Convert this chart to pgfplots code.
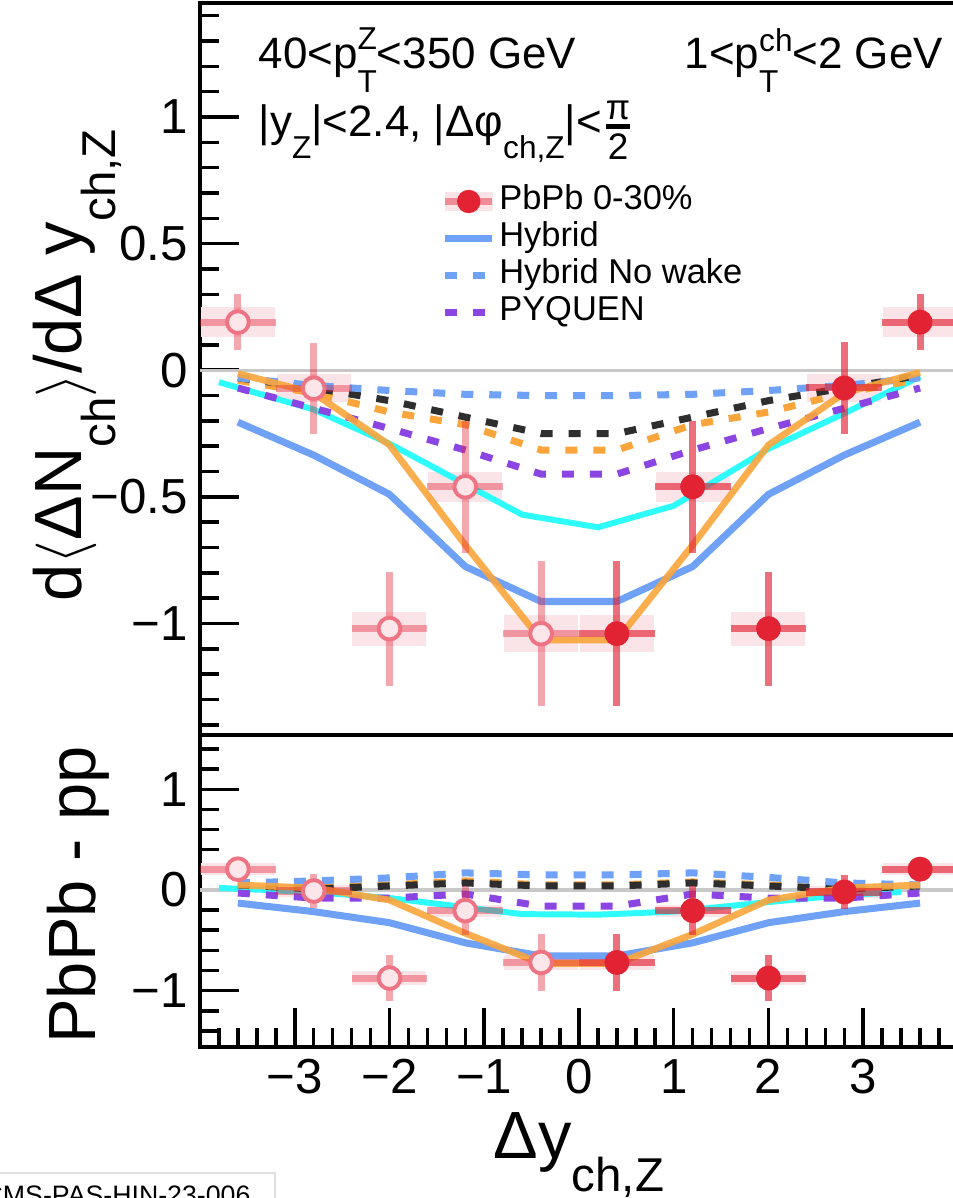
\documentclass[border=0pt]{standalone}
\usepackage{fontspec}
\setmainfont{Liberation Sans}
\usepackage{amsmath}
\usepackage{pgfplots}
\usepackage{pgfplotstable}
\pgfplotsset{compat=1.18}

\definecolor{mred}{HTML}{E22334}
\definecolor{openedge}{HTML}{EE7484}
\definecolor{openfill}{HTML}{FCE6E9}
\definecolor{boxpink}{HTML}{FBE4E8}
\definecolor{hyb}{HTML}{6FA1F6}
\definecolor{pyq}{HTML}{8B45E2}
\definecolor{orng}{HTML}{F9A53B}
\definecolor{cyn}{HTML}{2EFBFB}
\definecolor{blk}{HTML}{2E2E2E}
\definecolor{zline}{HTML}{C8C8C8}

\newcommand{\tickfont}{\fontsize{14}{16}\selectfont}
\newcommand{\labfont}{\fontsize{19}{22}\selectfont}
\newcommand{\annfont}{\fontsize{12.5}{14}\selectfont}
\newcommand{\legfont}{\fontsize{9.8}{11}\selectfont}
\newcommand{\smallsize}{\fontsize{9}{9}\selectfont}

% ROOT-like low subscripts and high superscripts
\newcommand{\asub}[1]{\raisebox{-0.5em}{\smallsize #1}}
\newcommand{\supsub}[3]{%
  \setbox0\hbox{\smallsize #2}\setbox2\hbox{\smallsize #3}%
  \ifdim\wd0>\wd2 \dimen0=\wd0 \else \dimen0=\wd2 \fi
  \rlap{\raisebox{#1}{\copy0}}\rlap{\raisebox{-0.55em}{\copy2}}\hspace*{\dimen0}}
\newcommand{\lsub}[1]{\raisebox{-0.5em}{\fontsize{13.5}{13.5}\selectfont #1}}
\newcommand{\pihalf}{\ensuremath{\genfrac{}{}{1.3pt}{1}{\mbox{\fontsize{10}{10}\selectfont π}}{\mbox{\fontsize{10.5}{10.5}\selectfont 2}}}}

% data points: x, value, stat, sys
\pgfplotstableread{
x y stat sys
-3.6  0.19  0.112 0.06
-2.8 -0.071 0.18  0.055
-2.0 -1.02  0.225 0.067
-1.2 -0.46  0.26  0.06
-0.4 -1.04  0.285 0.073
}\topneg
\pgfplotstableread{
x y stat sys
0.4 -1.04  0.285 0.073
1.2 -0.46  0.26  0.06
2.0 -1.02  0.225 0.067
2.8 -0.07  0.18  0.055
3.6  0.19  0.112 0.06
}\toppos
\pgfplotstableread{
x y stat sys
-3.6  0.207 0.112 0.06
-2.8 -0.01  0.17  0.055
-2.0 -0.875 0.225 0.067
-1.2 -0.205 0.245 0.06
-0.4 -0.72  0.28  0.073
}\botneg
\pgfplotstableread{
x y stat sys
0.4 -0.72  0.28  0.073
1.2 -0.205 0.245 0.06
2.0 -0.875 0.225 0.067
2.8 -0.02  0.17  0.055
3.6  0.207 0.112 0.06
}\botpos

% models
\pgfplotstableread{
x    hyb    nowake pyq    blk    odash  osolid
-3.6 -0.205 -0.03  -0.07  -0.03  -0.04  -0.013
-2.8 -0.335 -0.06  -0.15  -0.07  -0.09  -0.09
-2.0 -0.49  -0.08  -0.23  -0.12  -0.165 -0.295
-1.2 -0.775 -0.095 -0.315 -0.185 -0.215 -0.69
-0.4 -0.913 -0.10  -0.41  -0.25  -0.315 -1.065
 0.4 -0.913 -0.10  -0.41  -0.25  -0.315 -1.065
 1.2 -0.775 -0.095 -0.315 -0.185 -0.215 -0.69
 2.0 -0.49  -0.08  -0.23  -0.12  -0.165 -0.295
 2.8 -0.335 -0.06  -0.15  -0.07  -0.09  -0.09
 3.6 -0.205 -0.03  -0.07  -0.02  -0.035 -0.008
}\topmod
\pgfplotstableread{
x y
-3.8 -0.047
-2.8 -0.155
-2.0 -0.29
-0.6 -0.57
 0.2 -0.62
 1.0 -0.535
 2.0 -0.31
 2.8 -0.17
 3.6 -0.025
}\topcyan
\pgfplotstableread{
x    hyb    nowake pyq    blk   odash osolid
-3.6 -0.13  0.07  -0.03   0.05  0.06   0.05
-2.8 -0.215 0.09  -0.08   0.01  0.02   0.02
-2.0 -0.325 0.12  -0.08   0.04  0.05  -0.10
-1.2 -0.525 0.17  -0.04   0.07  0.09  -0.43
-0.4 -0.655 0.15  -0.16   0.04  0.05  -0.73
 0.4 -0.655 0.15  -0.16   0.04  0.05  -0.73
 1.2 -0.525 0.17  -0.04   0.07  0.08  -0.44
 2.0 -0.325 0.125 -0.08   0.04  0.05  -0.10
 2.8 -0.215 0.07  -0.08   0.01  0.01   0.02
 3.6 -0.13  0.05  -0.03   0.04  0.05   0.05
}\botmod
\pgfplotstableread{
x y
-3.8  0.02
-2.8 -0.02
-2.0 -0.08
-0.6 -0.24
 0.2 -0.245
 1.0 -0.215
 2.0 -0.12
 2.8 -0.05
 3.4 -0.02
}\botcyan

\pgfplotsset{
  panel/.style={
    scale only axis, width=7.58cm,
    xmin=-4, xmax=4,
    tick align=inside,
    major tick length=0.39cm, minor tick length=0.19cm,
    axis line style={line width=1pt},
    every tick/.append style={black, line width=1pt},
    every minor tick/.append style={black, line width=1pt},
    ytick pos=left,
    yticklabel style={font=\tickfont},
    xticklabel style={font=\tickfont},
    clip mode=individual,
  },
  sysbox/.style={draw=none, forget plot,
    error bars/.cd, y dir=both, y explicit, error mark=none,
    error bar style={line width=0.74cm, draw=boxpink}},
  filledpts/.style={forget plot, only marks, mark=*, mark size=3.3pt,
    mark options={draw=mred, fill=mred, line width=0.5pt},
    error bars/.cd, x dir=both, x fixed=0.4, y dir=both, y explicit,
    error mark=none, error bar style={line width=2pt, draw=mred, opacity=0.65}},
  openpts/.style={forget plot, only marks, mark=*, mark size=3.1pt,
    mark options={draw=openedge, fill=openfill, line width=1.1pt},
    error bars/.cd, x dir=both, x fixed=0.4, y dir=both, y explicit,
    error mark=none, error bar style={line width=2pt, draw=mred, opacity=0.4}},
  hybline/.style={hyb, line width=2pt},
  nowakeline/.style={hyb, line width=2pt, dash pattern=on 0.12cm off 0.16cm},
  pyqline/.style={pyq, line width=2pt, dash pattern=on 0.12cm off 0.16cm},
  blkline/.style={blk, line width=2pt, dash pattern=on 0.12cm off 0.16cm},
  odashline/.style={orng, line width=2pt, dash pattern=on 0.12cm off 0.16cm},
  osolidline/.style={orng, line width=1.9pt, opacity=0.9},
  cynline/.style={cyn, line width=1.7pt},
}

\begin{document}
\begin{tikzpicture}
\useasboundingbox (0,0) rectangle (9.53cm,11.98cm);

% ---------------- upper panel ----------------
\begin{axis}[panel,
  at={(2.00cm,4.63cm)}, anchor=south west, height=7.32cm,
  ymin=-1.44, ymax=1.45,
  xtick=\empty,
  ytick={-1,-0.5,0,0.5,1},
  yticklabels={−1,−0.5,0,0.5,1},
  minor ytick={-1.4,-1.3,-1.2,-1.1,-0.9,-0.8,-0.7,-0.6,-0.4,-0.3,-0.2,-0.1,0.1,0.2,0.3,0.4,0.6,0.7,0.8,0.9,1.1,1.2,1.3,1.4},
  legend style={at={(axis description cs:0.318,0.755)}, anchor=north west,
    draw=none, fill=none, font=\legfont, inner sep=0pt, row sep=0pt,
    nodes={inner sep=1pt, text height=6.6pt, text depth=1.9pt}},
  legend cell align=left,
  legend image code/.code={\draw[#1] (0cm,0cm) -- (0.47cm,0cm);},
]
\addplot[sysbox] table[x=x, y=y, y error=sys] {\topneg};
\addplot[sysbox] table[x=x, y=y, y error=sys] {\toppos};
\addplot[forget plot, zline, line width=0.9pt] coordinates {(-4,0) (4,0)};

\addplot[forget plot, cynline] table[x=x, y=y] {\topcyan};
\addplot[forget plot, hybline] table[x=x, y=hyb] {\topmod};
\addplot[forget plot, pyqline] table[x=x, y=pyq] {\topmod};
\addplot[forget plot, odashline] table[x=x, y=odash] {\topmod};
\addplot[forget plot, blkline] table[x=x, y=blk] {\topmod};
\addplot[forget plot, nowakeline] table[x=x, y=nowake] {\topmod};
\addplot[forget plot, osolidline] table[x=x, y=osolid] {\topmod};

\addplot[openpts] table[x=x, y=y, y error=stat] {\topneg};
\addplot[filledpts] table[x=x, y=y, y error=stat] {\toppos};

\addlegendimage{legend image code/.code={
  \fill[boxpink] (0cm,-0.09cm) rectangle (0.47cm,0.09cm);
  \draw[mred, opacity=0.45, line width=2pt] (0cm,0cm) -- (0.47cm,0cm);
  \fill[mred] (0.235cm,0cm) circle (0.11cm);}}
\addlegendentry{PbPb 0-30\%}
\addlegendimage{hybline}
\addlegendentry{Hybrid}
\addlegendimage{nowakeline}
\addlegendentry{Hybrid No wake}
\addlegendimage{pyqline}
\addlegendentry{PYQUEN}

\node[anchor=base west, inner sep=0pt, font=\annfont] at (axis description cs:0.0765,0.911)
  {40<p\supsub{0.42em}{Z}{T}<350 GeV};
\node[anchor=base west, inner sep=0pt, font=\annfont] at (axis description cs:0.6385,0.911)
  {1<p\supsub{0.38em}{ch}{T}<2 GeV};
\node[anchor=base west, inner sep=0pt, font=\annfont] at (axis description cs:0.0765,0.817)
  {|y\asub{Z}|<2.4, |Δφ\asub{ch,Z}|<\pihalf};

\node[rotate=90, anchor=base, inner sep=0pt, font=\labfont] at (axis description cs:-0.1557,0.505)
  {d$\langle$ΔN\lsub{ch}$\rangle$/dΔ y\lsub{ch,Z}};
\end{axis}

% ---------------- lower panel ----------------
\begin{axis}[panel,
  at={(2.00cm,1.51cm)}, anchor=south west, height=3.12cm,
  ymin=-1.56, ymax=1.54,
  xtick={-3,-2,-1,0,1,2,3},
  xticklabels={−3,−2,−1,0,1,2,3},
  minor xtick={-3.8,-3.6,-3.4,-3.2,-2.8,-2.6,-2.4,-2.2,-1.8,-1.6,-1.4,-1.2,-0.8,-0.6,-0.4,-0.2,0.2,0.4,0.6,0.8,1.2,1.4,1.6,1.8,2.2,2.4,2.6,2.8,3.2,3.4,3.6,3.8},
  xtick pos=bottom,
  ytick={-1,0,1},
  yticklabels={−1,0,1},
  minor ytick={-1.4,-1.2,-0.8,-0.6,-0.4,-0.2,0.2,0.4,0.6,0.8,1.2,1.4},
]
\addplot[sysbox] table[x=x, y=y, y error=sys] {\botneg};
\addplot[sysbox] table[x=x, y=y, y error=sys] {\botpos};
\addplot[forget plot, zline, line width=0.9pt] coordinates {(-4,0) (4,0)};

\addplot[forget plot, cynline] table[x=x, y=y] {\botcyan};
\addplot[forget plot, hybline] table[x=x, y=hyb] {\botmod};
\addplot[forget plot, pyqline] table[x=x, y=pyq] {\botmod};
\addplot[forget plot, odashline] table[x=x, y=odash] {\botmod};
\addplot[forget plot, blkline] table[x=x, y=blk] {\botmod};
\addplot[forget plot, nowakeline] table[x=x, y=nowake] {\botmod};
\addplot[forget plot, osolidline] table[x=x, y=osolid] {\botmod};

\addplot[openpts] table[x=x, y=y, y error=stat] {\botneg};
\addplot[filledpts] table[x=x, y=y, y error=stat] {\botpos};

\node[rotate=90, anchor=base, inner sep=0pt, font=\labfont] at (axis description cs:-0.1385,0.487)
  {PbPb - pp};
\node[anchor=base, inner sep=0pt, font=\labfont] at (axis description cs:0.5,-0.356)
  {Δy\lsub{ch,Z}};
\end{axis}

% cut-off reference tag at the lower left
\draw[gray!25, line width=0.6pt] (-0.5cm,-0.6cm) rectangle (2.75cm,0.25cm);
\node[anchor=base west, inner sep=0pt, font=\fontsize{7.6}{8}\selectfont] at (-0.17cm,-0.07cm) {CMS-PAS-HIN-23-006};
\end{tikzpicture}
\end{document}
